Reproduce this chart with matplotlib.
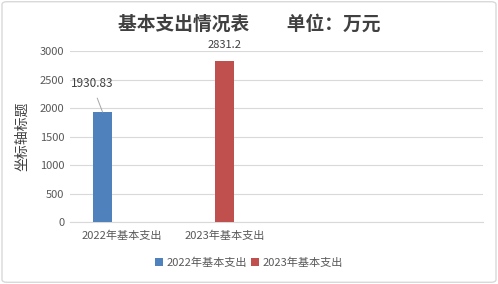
import matplotlib.pyplot as plt
from matplotlib.patches import FancyBboxPatch

plt.rcParams['font.family'] = ['Noto Sans CJK SC', 'DejaVu Sans']

# 数据
categories = ['2022年基本支出', '2023年基本支出', '', '']
series_names = ['2022年基本支出', '2023年基本支出']
s2022 = [1930.83, 0, 0, 0]
s2023 = [0, 2831.2, 0, 0]
colors = ['#4F81BD', '#C0504D']

fig = plt.figure(figsize=(4.98, 2.84), dpi=100)
ax = fig.add_axes([0.1406, 0.218, 0.8294, 0.602])

w = 0.185
x = list(range(len(categories)))
b1 = ax.bar([i - w for i in x], s2022, width=w, color=colors[0], label=series_names[0], zorder=3)
b2 = ax.bar(x, s2023, width=w, color=colors[1], label=series_names[1], zorder=3)

ax.set_xlim(-0.5, len(categories) - 0.5)
ax.set_ylim(0, 3000)
ax.set_yticks(range(0, 3001, 500))
ax.set_xticks(x)
ax.set_xticklabels(categories)
ax.grid(axis='y', color='#d9d9d9', linewidth=0.8, zorder=0)
for s in ['top', 'right', 'left']:
    ax.spines[s].set_visible(False)
ax.spines['bottom'].set_color('#d9d9d9')
ax.tick_params(length=0, labelsize=8, colors='#595959', pad=4)
ax.tick_params(axis='x', pad=6)
ax.set_ylabel('坐标轴标题', fontsize=10, color='#404040', labelpad=8)

# 数据标签
ax.annotate(f'{s2022[0]:g}', xy=(0 - w, s2022[0]), xytext=(-0.29, 2430),
            ha='center', va='center', fontsize=8.5, color='#404040',
            arrowprops=dict(arrowstyle='-', color='#a6a6a6', lw=0.7, shrinkA=4, shrinkB=0))
ax.text(1, s2023[1] + 180, f'{s2023[1]:g}', ha='center', va='bottom',
        fontsize=8, color='#404040', clip_on=False)

fig.text(0.5, 0.915, '基本支出情况表\u3000\u3000单位：万元', ha='center', va='center',
         fontsize=13.5, fontweight='bold', color='#404040')

fig.legend(handles=[b1, b2], loc='center', bbox_to_anchor=(0.5, 0.075), ncol=2,
           frameon=False, fontsize=8, labelcolor='#595959', handlelength=0.7,
           handleheight=0.7, handletextpad=0.3, columnspacing=0.4)

fig.patches.append(FancyBboxPatch((0.004, 0.006), 0.992, 0.988, boxstyle='round,pad=0,rounding_size=0.01',
                                  transform=fig.transFigure, fill=False, edgecolor='#d9d9d9', lw=1))

fig.savefig('out.png', dpi=100)
